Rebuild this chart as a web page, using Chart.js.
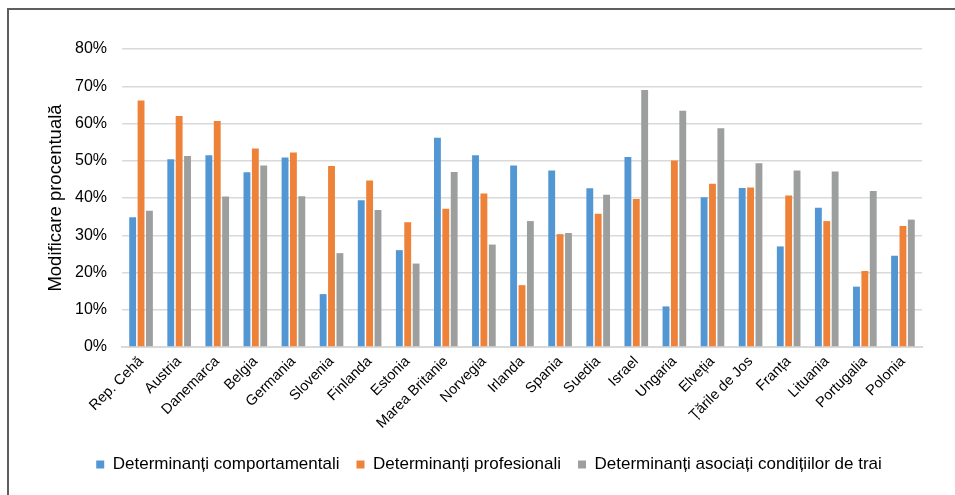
<!DOCTYPE html>
<html>
<head>
<meta charset="utf-8">
<script src="https://cdn.jsdelivr.net/npm/chart.js@4/dist/chart.umd.min.js"></script>
<style>
  html, body { margin: 0; padding: 0; background: #fff; }
  #wrap { position: relative; width: 955px; height: 495px; overflow: hidden; }
  #frame { position: absolute; left: 7px; top: 8px; right: -10px; bottom: -10px;
           border-top: 2px solid #5e5e5e; border-left: 2px solid #5e5e5e; pointer-events: none; }
  canvas { position: absolute; left: 0; top: 0; }
</style>
</head>
<body>
<div id="wrap">
  <canvas id="c" width="955" height="495"></canvas>
  <div id="frame"></div>
</div>
<script>
const categories = ["Rep. Cehă", "Austria", "Danemarca", "Belgia", "Germania", "Slovenia", "Finlanda", "Estonia", "Marea Britanie", "Norvegia", "Irlanda", "Spania", "Suedia", "Israel", "Ungaria", "Elveția", "Țările de Jos", "Franța", "Lituania", "Portugalia", "Polonia"];
const seriesNames = ["Determinanți comportamentali", "Determinanți profesionali", "Determinanți asociați condițiilor de trai"];
const comportamentali = [34.8, 50.4, 51.5, 46.9, 50.9, 14.2, 39.4, 26.0, 56.2, 51.5, 48.7, 47.4, 42.6, 51.0, 10.9, 40.2, 42.7, 27.0, 37.4, 16.2, 24.5];
const profesionali    = [66.2, 62.0, 60.7, 53.3, 52.2, 48.6, 44.7, 33.5, 37.1, 41.2, 16.6, 30.3, 35.8, 39.7, 50.1, 43.8, 42.8, 40.7, 33.8, 20.4, 32.5];
const conditiiTrai    = [36.6, 51.3, 40.4, 48.7, 40.5, 25.2, 36.8, 22.4, 47.0, 27.5, 33.8, 30.6, 40.9, 69.0, 63.4, 58.7, 49.3, 47.4, 47.1, 41.9, 34.2];
const yTicks = [0, 10, 20, 30, 40, 50, 60, 70, 80];
const yTitle = "Modificare procentuală";

const FONT = "'Liberation Sans', Arial, sans-serif";
const colors = ["#5297d3", "#ef8239", "#9d9f9f"];

const legendShift = {
  id: 'legendShift',
  afterLayout(chart) {
    if (chart.legend) { chart.legend.left += 10; chart.legend.right += 10; }
  }
};

new Chart(document.getElementById('c'), {
  type: 'bar',
  data: {
    labels: categories,
    datasets: [comportamentali, profesionali, conditiiTrai].map((d, i) => ({
      label: seriesNames[i],
      data: d,
      backgroundColor: colors[i],
      borderWidth: 0,
      barPercentage: 0.82,
      categoryPercentage: 0.66
    }))
  },
  plugins: [legendShift],
  options: {
    responsive: false,
    devicePixelRatio: 1,
    animation: false,
    layout: { padding: { left: 36, right: 33, top: 49, bottom: 12 } },
    plugins: {
      tooltip: { enabled: false },
      legend: {
        position: 'bottom',
        labels: {
          boxWidth: 8, boxHeight: 8, padding: 17,
          color: '#000',
          font: { family: FONT, size: 17 }
        }
      }
    },
    scales: {
      x: {
        grid: { display: false, drawTicks: false },
        border: { display: true, color: '#d9d9d9', width: 2 },
        ticks: {
          color: '#000', maxRotation: 45, minRotation: 45, autoSkip: false, padding: 6,
          font: { family: FONT, size: 14.5 }
        },
        afterFit: (s) => { s.height = 92; }
      },
      y: {
        min: 0, max: 80,
        afterBuildTicks: (s) => { s.ticks = yTicks.map(v => ({ value: v })); },
        grid: { color: '#d9d9d9', lineWidth: 1.5, drawTicks: false },
        border: { display: false },
        ticks: {
          color: '#000', padding: 15,
          font: { family: FONT, size: 16 },
          callback: (v) => v + '%'
        },
        title: {
          display: true, text: yTitle, color: '#000',
          font: { family: FONT, size: 18.5 },
          padding: { top: 9, bottom: 0 }
        },
        afterFit: (s) => { s.width = 86; }
      }
    }
  }
});
</script>
</body>
</html>
